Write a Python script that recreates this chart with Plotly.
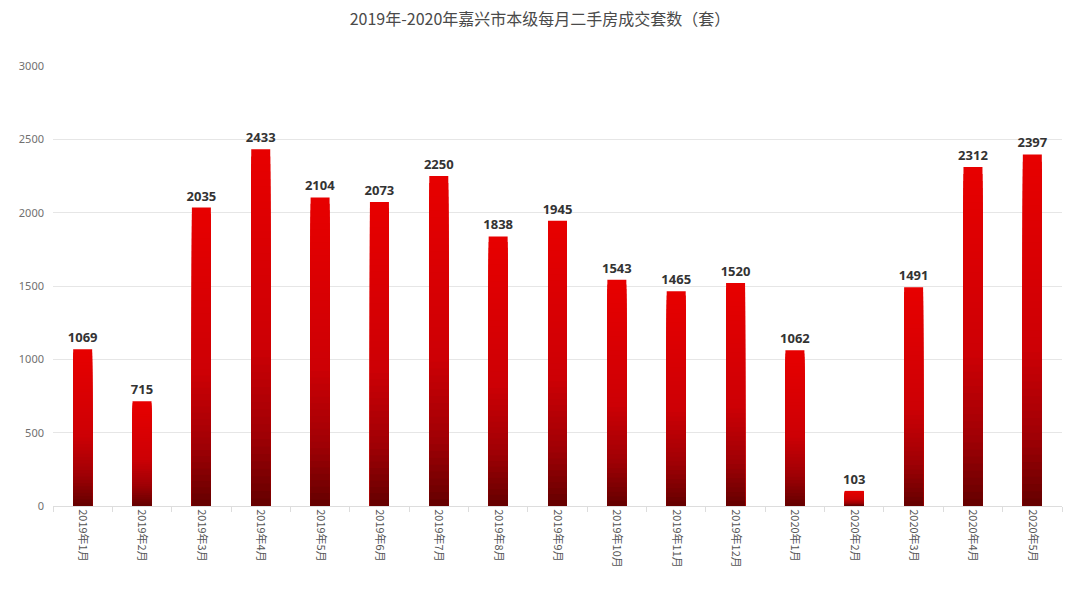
import plotly.graph_objects as go

months = ["2019年1月", "2019年2月", "2019年3月", "2019年4月", "2019年5月", "2019年6月",
          "2019年7月", "2019年8月", "2019年9月", "2019年10月", "2019年11月", "2019年12月",
          "2020年1月", "2020年2月", "2020年3月", "2020年4月", "2020年5月"]
deals = [1069, 715, 2035, 2433, 2104, 2073, 2250, 1838, 1945, 1543, 1465, 1520,
         1062, 103, 1491, 2312, 2397]

title = "2019年-2020年嘉兴市本级每月二手房成交套数（套）"

# vertical gradient stops (fraction of bar height -> rgb)
grad_stops = [(0.0, (100, 0, 0)), (0.2, (160, 0, 5)), (0.45, (205, 0, 5)), (1.0, (232, 0, 0))]


def grad_color(t):
    for (t0, c0), (t1, c1) in zip(grad_stops[:-1], grad_stops[1:]):
        if t0 <= t <= t1:
            a = (t - t0) / (t1 - t0)
            c = [round(c0[i] + a * (c1[i] - c0[i])) for i in range(3)]
            return f"rgb({c[0]},{c[1]},{c[2]})"
    c = grad_stops[-1][1]
    return f"rgb({c[0]},{c[1]},{c[2]})"


fig = go.Figure()
N = 48
for k in range(N):
    f = (N - k) / N
    mid = f - 0.5 / N
    fig.add_trace(go.Bar(
        x=months,
        y=[v * f for v in deals],
        marker=dict(color=grad_color(mid), line=dict(width=0)),
        text=[str(v) for v in deals] if k == 0 else None,
        textposition="outside" if k == 0 else "none",
        constraintext="none",
        textfont=dict(family="Noto Sans, DejaVu Sans, sans-serif", size=13, color="#333333", weight="bold"),
        cliponaxis=False,
        hoverinfo="skip" if k else "x+y",
        showlegend=False,
    ))

fig.update_layout(
    width=1080, height=600,
    barmode="overlay",
    bargap=0.68,
    paper_bgcolor="white",
    plot_bgcolor="white",
    margin=dict(l=53, r=18, t=66, b=94),
    title=dict(text=title, x=0.5, xanchor="center", y=0.967, yanchor="middle",
               font=dict(family="Noto Sans CJK SC", size=16, color="#4a4a4a")),
    font=dict(family="Noto Sans CJK SC"),
)
fig.update_yaxes(
    range=[0, 3000], dtick=500, showgrid=True, gridcolor="#e6e6e6", gridwidth=1,
    zeroline=False, showline=False,
    tickfont=dict(family="Noto Sans, DejaVu Sans, sans-serif", size=11, color="#707070"),
    ticks="", ticklabelstandoff=8,
)
fig.update_xaxes(
    tickangle=90, tickson="boundaries", ticks="outside", ticklen=5, tickcolor="#dddddd",
    showline=True, linecolor="#dddddd", linewidth=1,
    tickfont=dict(family="Noto Sans CJK SC", size=11, color="#555555"),
)
fig.write_html("out.html")
